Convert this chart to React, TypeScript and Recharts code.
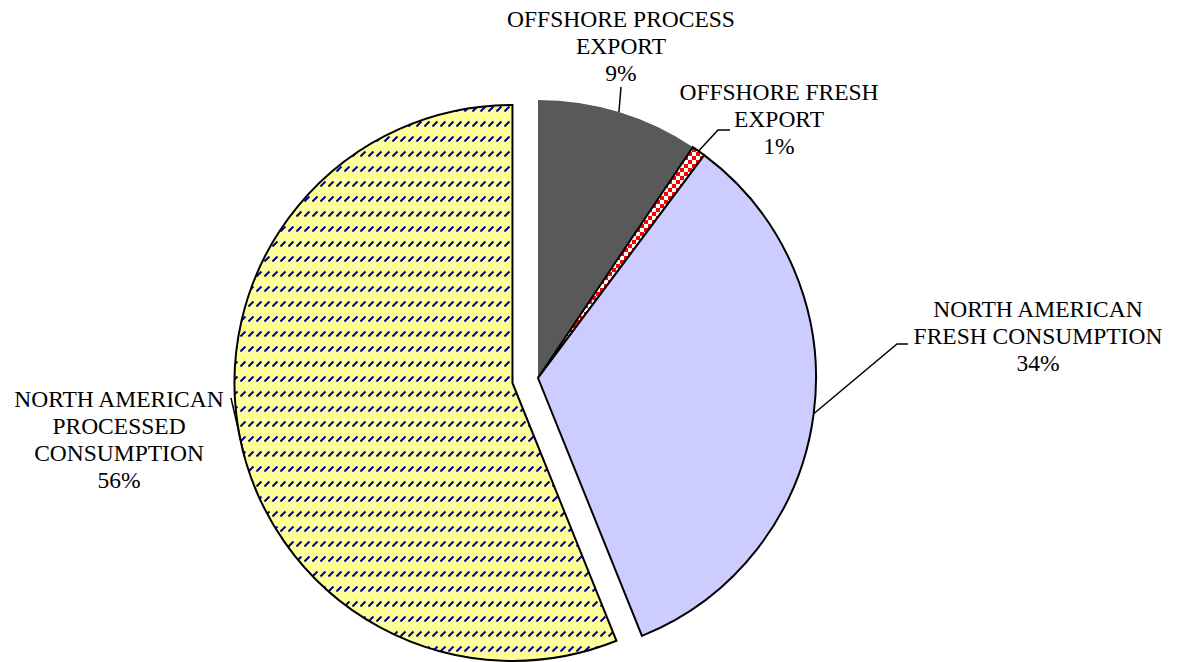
import { Cell, Pie, PieChart } from "recharts";

// share of total volume, clockwise from 12 o'clock
const categories = [
  "OFFSHORE PROCESS EXPORT",
  "OFFSHORE FRESH EXPORT",
  "NORTH AMERICAN FRESH CONSUMPTION",
  "NORTH AMERICAN PROCESSED CONSUMPTION",
];
const shares = [9.4, 0.8, 33.7, 56.1];
const labelRows = [
  ["OFFSHORE PROCESS", "EXPORT"],
  ["OFFSHORE FRESH", "EXPORT"],
  ["NORTH AMERICAN", "FRESH CONSUMPTION"],
  ["NORTH AMERICAN", "PROCESSED", "CONSUMPTION"],
];

const data = categories.map((name, i) => ({ name, value: shares[i] }));

const fills = ["#595959", "url(#checker)", "#ccccff", "url(#dashDiag)"];
const strokes = ["none", "#000", "#000", "#000"];
const EXPLODED = 3;
const EXPLODE_BY = 26;

// label placement (Excel puts these by hand)
const labelLayout = [
  { x: 621, y: 27, angleShift: 0, leader: [[621, 87]] },
  { x: 779, y: 100, angleShift: 0, leader: [[718, 130], [730, 130]] },
  { x: 1038, y: 317, angleShift: 0, leader: [[897, 344], [908, 344]] },
  { x: 119, y: 407, angleShift: 4.6, leader: [[231, 398]] },
];

const RADIAN = Math.PI / 180;
const total = shares.reduce((a, b) => a + b, 0);
const before = shares.slice(0, EXPLODED).reduce((a, b) => a + b, 0);
const midDeg = 90 - ((before + shares[EXPLODED] / 2) / total) * 360;
const dx = EXPLODE_BY * Math.cos(midDeg * RADIAN);
const dy = -EXPLODE_BY * Math.sin(midDeg * RADIAN);

const CX = 538;
const CY = 378;
const R = 278;

function renderLabel(show: (i: number) => boolean) {
  return (props: any) => {
    const { cx, cy, midAngle, outerRadius, percent, index } = props;
    if (!show(index)) return null;
    const lay = labelLayout[index];
    const a = (midAngle + lay.angleShift) * RADIAN;
    const ex = cx + outerRadius * Math.cos(-a);
    const ey = cy + outerRadius * Math.sin(-a);
    const pts = [[ex, ey], ...lay.leader].map((p) => p.join(",")).join(" ");
    const rows = [...labelRows[index], `${Math.round(percent * 100)}%`];
    return (
      <g key={`lbl-${index}`}>
        <polyline points={pts} fill="none" stroke="#000" strokeWidth={1.5} />
        <text
          x={lay.x}
          y={lay.y}
          textAnchor="middle"
          fontFamily="'Liberation Serif', 'Times New Roman', serif"
          fontSize={23.5}
          fill="#000"
        >
          {rows.map((r, k) => (
            <tspan key={k} x={lay.x} dy={k === 0 ? 0 : 27}>
              {r}
            </tspan>
          ))}
        </text>
      </g>
    );
  };
}

export default function App() {
  return (
    <div style={{ position: "absolute", left: 0, top: 0, width: 1179, height: 662, background: "#fff" }}>
      <PieChart width={1179} height={662} margin={{ top: 0, right: 0, bottom: 0, left: 0 }}>
        <defs>
          <pattern id="checker" patternUnits="userSpaceOnUse" width={8} height={8}>
            <rect width={8} height={8} fill="#fff" />
            <rect width={4} height={4} fill="#ff0000" />
            <rect x={4} y={4} width={4} height={4} fill="#ff0000" />
          </pattern>
          <pattern id="dashDiag" patternUnits="userSpaceOnUse" width={8} height={15}>
            <rect width={8} height={15} fill="#ffff99" />
            <line x1={0.5} y1={6.5} x2={5.5} y2={1.5} stroke="#00008b" strokeWidth={2} />
          </pattern>
        </defs>
        <Pie
          data={data}
          dataKey="value"
          nameKey="name"
          cx={CX}
          cy={CY}
          outerRadius={R}
          startAngle={90}
          endAngle={-270}
          labelLine={false}
          label={renderLabel((i) => i !== EXPLODED)}
          isAnimationActive={false}
        >
          {data.map((d, i) => (
            <Cell
              key={d.name}
              fill={i === EXPLODED ? "none" : fills[i]}
              stroke={i === EXPLODED ? "none" : strokes[i]}
              strokeWidth={2}
            />
          ))}
        </Pie>
        <Pie
          data={data}
          dataKey="value"
          nameKey="name"
          cx={CX + dx}
          cy={CY + dy}
          outerRadius={R}
          startAngle={90}
          endAngle={-270}
          labelLine={false}
          label={renderLabel((i) => i === EXPLODED)}
          isAnimationActive={false}
        >
          {data.map((d, i) => (
            <Cell
              key={d.name}
              fill={i === EXPLODED ? fills[i] : "none"}
              stroke={i === EXPLODED ? strokes[i] : "none"}
              strokeWidth={2}
            />
          ))}
        </Pie>
      </PieChart>
    </div>
  );
}
